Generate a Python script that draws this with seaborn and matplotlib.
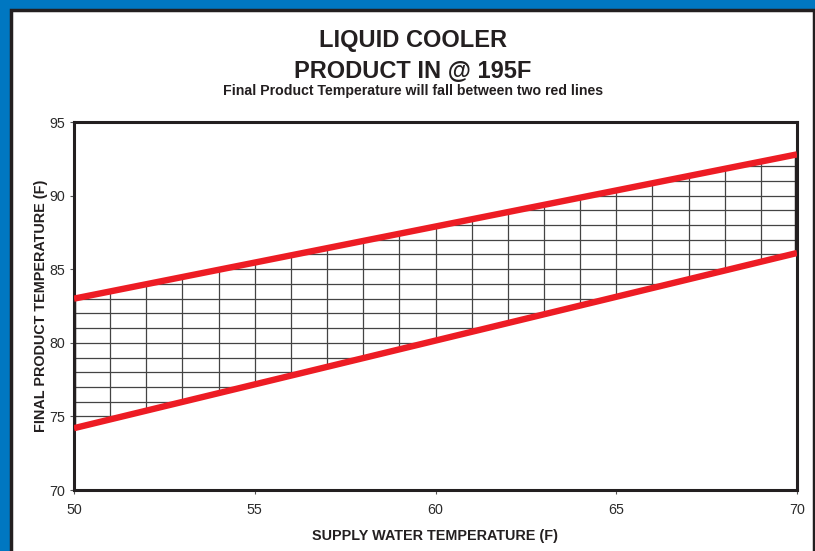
import numpy as np
import pandas as pd
import matplotlib
matplotlib.use("Agg")
import matplotlib.pyplot as plt
import seaborn as sns
from matplotlib.patches import Rectangle, Polygon

# ---- data ----
supply_temp = [50, 70]
upper_line = [83.0, 92.8]
lower_line = [74.2, 86.1]
x_ticks = [50, 55, 60, 65, 70]
y_ticks = [70, 75, 80, 85, 90, 95]

title1 = "LIQUID COOLER"
title2 = "PRODUCT IN @ 195F"
subtitle = "Final Product Temperature will fall between two red lines"
xlabel = "SUPPLY WATER TEMPERATURE (F)"
ylabel = "FINAL PRODUCT TEMPERATURE (F)"

sns.set_style("white")
plt.rcParams['font.family'] = ['Liberation Sans', 'DejaVu Sans']

W, H = 815, 551
fig = plt.figure(figsize=(W / 100, H / 100), dpi=100)
fig.patch.set_facecolor("#0077c1")

# white panel with black border
panel = Rectangle((10.5 / W, -0.05), (813.5 - 10.5) / W, (H - 9.5) / H + 0.05,
                  transform=fig.transFigure, facecolor="white",
                  edgecolor="#231f20", linewidth=2.5, zorder=-5)
fig.patches.append(panel)

ax = fig.add_axes([74 / W, 1 - 490 / H, (797 - 74) / W, (490 - 122) / H])
ax.set_zorder(5)
ax.set_facecolor("white")

df = pd.DataFrame({
    "supply": supply_temp * 2,
    "temp": upper_line + lower_line,
    "line": ["upper"] * 2 + ["lower"] * 2,
})

# grid clipped to region between lines
poly = Polygon([(supply_temp[0], lower_line[0]), (supply_temp[1], lower_line[1]),
                (supply_temp[1], upper_line[1]), (supply_temp[0], upper_line[0])],
               closed=True, facecolor="none", edgecolor="none", transform=ax.transData)
ax.add_patch(poly)
hl = ax.hlines(np.arange(70, 96, 1), supply_temp[0], supply_temp[1],
               colors="#444444", linewidth=0.9, zorder=2)
vl = ax.vlines(np.arange(50, 71, 1), 70, 95, colors="#444444", linewidth=0.9, zorder=2)
hl.set_clip_path(poly)
vl.set_clip_path(poly)

# thick edges
ax.vlines([supply_temp[0]], lower_line[0], upper_line[0], colors="#231f20", linewidth=3.2, zorder=3)
ax.vlines([supply_temp[1]], lower_line[1], upper_line[1], colors="#231f20", linewidth=3.2, zorder=3)

sns.lineplot(data=df, x="supply", y="temp", units="line", estimator=None,
             color="#ed1c24", linewidth=4.6, ax=ax, zorder=4, legend=False,
             solid_capstyle="butt")

ax.set_xlim(50, 70)
ax.set_ylim(70, 95)
ax.set_xticks(x_ticks)
ax.set_yticks(y_ticks)
ax.tick_params(axis="both", labelsize=10.3, colors="#555555", length=3, width=0.8,
               direction="out", bottom=True, left=True)
ax.tick_params(axis="x", pad=6)
ax.tick_params(axis="y", pad=3.5)
ax.tick_params(axis="both", labelcolor="#2b2b2b")
for s in ax.spines.values():
    s.set_color("#231f20")
    s.set_linewidth(2.2)

ax.set_xlabel(xlabel, fontsize=10.4, fontweight="bold", color="#231f20", labelpad=9)
ax.set_ylabel(ylabel, fontsize=10.4, fontweight="bold", color="#231f20", labelpad=0.5)

cx = 413 / W
fig.text(cx, 1 - 40 / H, title1, ha="center", va="center", fontsize=17,
         fontweight="bold", color="#231f20")
fig.text(cx, 1 - 71 / H, title2, ha="center", va="center", fontsize=17,
         fontweight="bold", color="#231f20")
fig.text(cx, 1 - 91 / H, subtitle, ha="center", va="center", fontsize=10.2,
         fontweight="bold", color="#231f20")

fig.savefig("out.png", dpi=100, facecolor=fig.get_facecolor())
